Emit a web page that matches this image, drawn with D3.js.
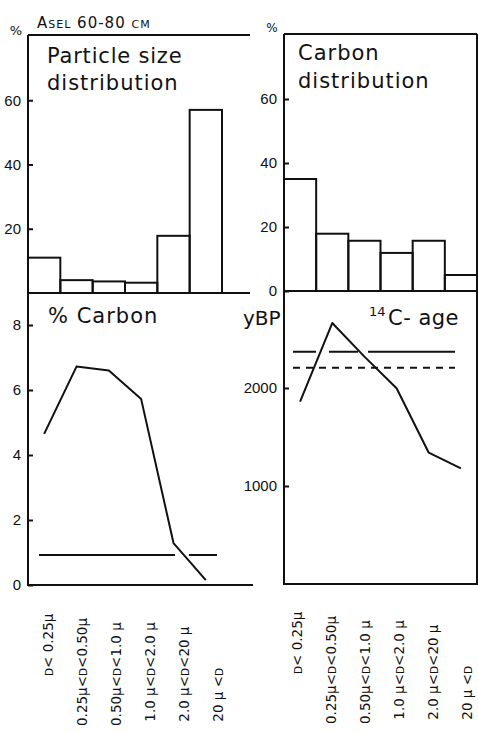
<!DOCTYPE html>
<html><head><meta charset="utf-8">
<script src="https://cdn.jsdelivr.net/npm/d3@7"></script>
<style>
html,body{margin:0;padding:0;background:#fff;}
svg{display:block;}
.tick text{font-family:"Liberation Sans",Arial,sans-serif;font-size:15px;fill:#111;}
</style></head>
<body>
<svg id="c" width="478" height="733"></svg>
<script>
// ---- data ----
const categories = ["c1","c2","c3","c4","c5","c6"];
const labelLower = ["", "0.25\u00b5<", "0.50\u00b5<", "1.0 \u00b5<", "2.0 \u00b5<", "20 \u00b5 <"];
const labelUpper = ["< 0.25\u00b5", "<0.50\u00b5", "<1.0 \u00b5", "<2.0 \u00b5", "<20 \u00b5", ""];
const particleSize = [11, 4, 3.6, 3.2, 17.8, 57];       // %
const carbonDist   = [35, 17.9, 15.7, 11.9, 15.7, 5];    // %
const carbonPct    = [4.65, 6.72, 6.6, 5.72, 1.29, 0.15];// % Carbon
const c14Age       = [1860, 2663, 2320, 1997, 1340, 1180];// yBP
const carbonRef = 0.92;
const ageRefSolid = 2370;
const ageRefDashed = 2207;
const ticksTopL = [20, 40, 60];
const ticksTopR = [0, 20, 40, 60];
const ticksBotL = [0, 2, 4, 6, 8];
const ticksBotR = [1000, 2000];

const svg = d3.select("#c");
const ink = "#111";

// ---- scales ----
const xL = d3.scaleBand().domain(categories).range([28, 222]).padding(0);
const xR = d3.scaleBand().domain(categories).range([284, 477]).padding(0);
const labXL = d3.scalePoint().domain(categories).range([48, 218]);
const labXR = d3.scalePoint().domain(categories).range([297, 467]);
const yTL = d3.scaleLinear().domain([0, 80]).range([293, 36]);
const yTR = d3.scaleLinear().domain([0, 80]).range([291, 35]);
const yBL = d3.scaleLinear().domain([0, 9]).range([585, 292.5]);
const yBR = d3.scaleLinear().domain([0, 3000]).range([584, 290]);

function line(x1,y1,x2,y2,dash){
  const l = svg.append("line").attr("x1",x1).attr("y1",y1).attr("x2",x2).attr("y2",y2)
    .attr("stroke",ink).attr("stroke-width",2);
  if(dash) l.attr("stroke-dasharray",dash);
  return l;
}

// ---- frames ----
line(28, 35, 250, 35);
line(28, 35, 28, 586);
line(28, yTL(0), 250, yTL(0));
line(28, yBL(0), 253, yBL(0));
line(284, 34, 477, 34);
line(284, 34, 284, 585);
line(477, 34, 477, 585);
line(284, yTR(0), 477, yTR(0));
line(284, yBR(0), 477, yBR(0));

// ---- axes ----
function axis(scale, x, ticks){
  const g = svg.append("g").attr("transform",`translate(${x},0)`)
    .call(d3.axisLeft(scale).tickValues(ticks).tickSize(-5).tickPadding(7).tickFormat(d3.format("d")));
  g.select(".domain").remove();
  g.selectAll(".tick line").attr("stroke",ink).attr("stroke-width",2);
}
axis(yTL, 28, ticksTopL);
axis(yTR, 284, ticksTopR);
axis(yBL, 28, ticksBotL);
axis(yBR, 284, ticksBotR);

// ---- bars ----
svg.append("g").selectAll("rect").data(particleSize).join("rect")
  .attr("x",(d,i)=>xL(categories[i])).attr("width",xL.bandwidth())
  .attr("y",d=>yTL(d)).attr("height",d=>yTL(0)-yTL(d))
  .attr("fill","none").attr("stroke",ink).attr("stroke-width",2);
svg.append("g").selectAll("rect").data(carbonDist).join("rect")
  .attr("x",(d,i)=>xR(categories[i])).attr("width",xR.bandwidth())
  .attr("y",d=>yTR(d)).attr("height",d=>yTR(0)-yTR(d))
  .attr("fill","none").attr("stroke",ink).attr("stroke-width",2);

// ---- lines ----
const lineL = d3.line().x((d,i)=>xL(categories[i])+xL.bandwidth()/2).y(d=>yBL(d));
const lineR = d3.line().x((d,i)=>xR(categories[i])+xR.bandwidth()/2).y(d=>yBR(d));
svg.append("path").attr("d",lineL(carbonPct)).attr("fill","none").attr("stroke",ink).attr("stroke-width",2).attr("stroke-linejoin","round");
svg.append("path").attr("d",lineR(c14Age)).attr("fill","none").attr("stroke",ink).attr("stroke-width",2).attr("stroke-linejoin","round");

line(39, yBL(carbonRef), 217, yBL(carbonRef), "136,14,200");
line(293, yBR(ageRefSolid), 455, yBR(ageRefSolid), "23,13,29,10,200");
line(293, yBR(ageRefDashed), 455, yBR(ageRefDashed), "7,6");

// ---- texts ----
function text(x,y,t,size,opts={}){
  const el = svg.append("text").attr("x",x).attr("y",y).text(t)
    .attr("font-family",opts.family||"'DejaVu Sans',sans-serif")
    .attr("font-size",size).attr("fill",ink);
  if(opts.ls) el.attr("letter-spacing",opts.ls);
  if(opts.anchor) el.attr("text-anchor",opts.anchor);
  if(opts.variant) el.attr("font-variant",opts.variant);
  return el;
}
text(37, 28, "Asel 60-80 cm", 15, {variant:"small-caps", ls:"1px"});
text(16, 35, "%", 13, {anchor:"middle"});
text(272, 32, "%", 12, {anchor:"middle"});
text(47, 63, "Particle size", 21, {ls:"0.8px"});
text(47, 90, "distribution", 21, {ls:"1px"});
text(298, 60, "Carbon", 21, {ls:"1px"});
text(298, 88, "distribution", 21, {ls:"1px"});
text(48, 323, "% Carbon", 21, {ls:"1px"});
text(243, 325, "yBP", 20);
text(369, 316, "14", 13);
text(388, 325, "C- age", 21, {ls:"0.5px"});

// ---- rotated category labels ----
function catLabels(scale, yD){
  const g = svg.append("g");
  categories.forEach((c,i)=>{
    const x = scale(c);
    const tr = `translate(${x+5},${yD}) rotate(-90)`;
    const up = g.append("text").attr("transform",tr)
      .attr("font-family","'DejaVu Sans',sans-serif").attr("font-size",13.5).attr("fill",ink)
      .attr("text-anchor","start");
    up.append("tspan").attr("font-size",10.5).text("D");
    up.append("tspan").text(labelUpper[i]);
    if(labelLower[i]){
      g.append("text").attr("transform",tr)
        .attr("font-family","'DejaVu Sans',sans-serif").attr("font-size",13.5).attr("fill",ink)
        .attr("text-anchor","end").text(labelLower[i] + " ");
    }
  });
}
catLabels(labXL, 676);
catLabels(labXR, 674);
</script>
</body></html>
